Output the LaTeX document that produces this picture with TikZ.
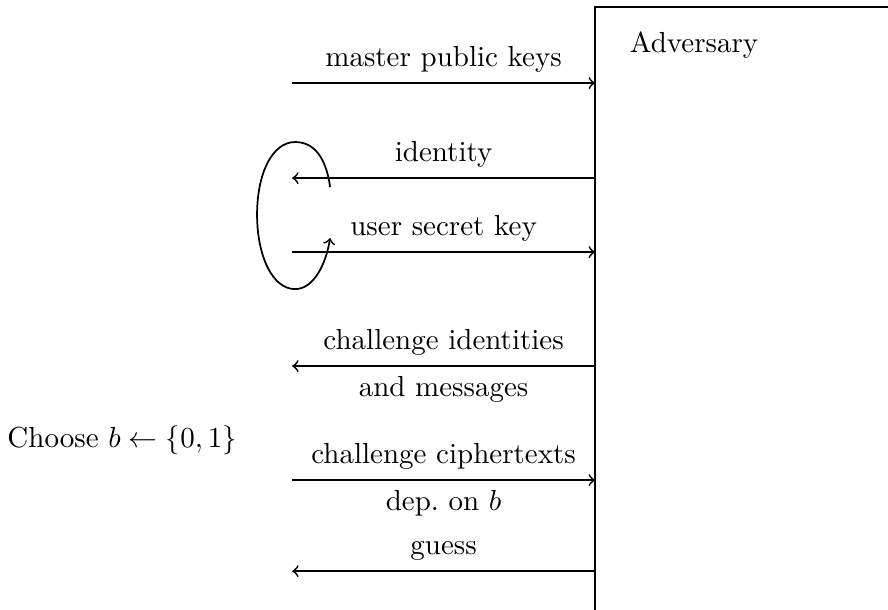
\documentclass[tikz,border=0pt]{standalone}
\begin{document}
\begin{tikzpicture}[
  msg/.style={semithick},
  box/.style={draw, line width=0.4pt}
]
\clip (0,0) rectangle (10.76,-7.39);
% adversary box
\draw[box] (7.21,-9) -- (7.21,-0.085) -- (12,-0.085);
\node (adv) at (8.41,-0.545) {Adversary};
% endpoints
\coordinate (l1) at (3.54,-1.006); \coordinate (r1) at (7.21,-1.006);
\coordinate (l2) at (3.54,-2.158); \coordinate (r2) at (7.21,-2.158);
\coordinate (l3) at (3.54,-3.055); \coordinate (r3) at (7.21,-3.055);
\coordinate (l4) at (3.54,-4.436); \coordinate (r4) at (7.21,-4.436);
\coordinate (l5) at (3.54,-5.818); \coordinate (r5) at (7.21,-5.818);
\coordinate (l6) at (3.54,-6.921); \coordinate (r6) at (7.21,-6.921);
\draw[msg,->] (l1) -- node[above] {master public keys} (r1);
\draw[msg,->] (r2) -- node[above] {identity} (l2);
\draw[msg,->] (l3) -- node[above] {user secret key} (r3);
\draw[msg,->] (r4) -- node[above] {challenge identities} node[below] {and messages} (l4);
\draw[msg,->] (l5) -- node[above] {challenge ciphertexts} node[below] {dep.\ on $b$} (r5);
\draw[msg,->] (r6) -- node[above] {guess} (l6);
\node (choose) at (1.48,-5.33) {Choose $b \leftarrow \{0,1\}$};
% loop
\coordinate (ls) at (4.0,-2.267);
\coordinate (le) at (4.0,-2.885);
\draw[msg,->] (ls) .. controls (3.95,-1.9) and (3.8,-1.721) .. (3.576,-1.721)
  .. controls (3.3,-1.721) and (3.115,-2.1) .. (3.115,-2.6)
  .. controls (3.115,-3.1) and (3.3,-3.503) .. (3.576,-3.503)
  .. controls (3.8,-3.503) and (3.95,-3.2) .. (le);
\end{tikzpicture}
\end{document}
